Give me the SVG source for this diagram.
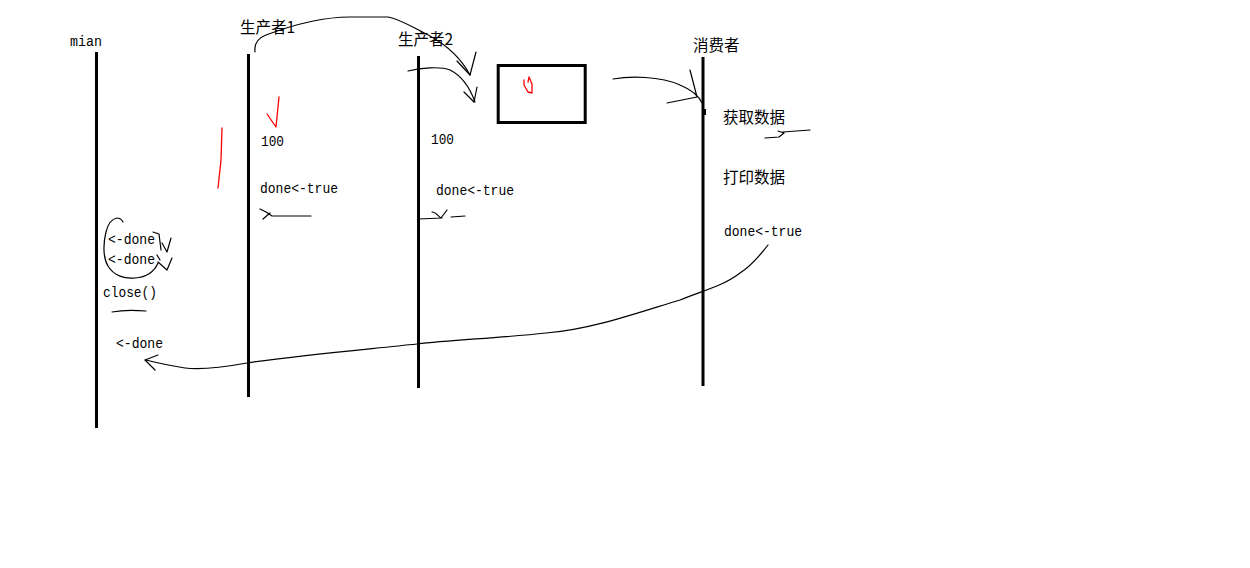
<svg xmlns="http://www.w3.org/2000/svg" width="1250" height="568" viewBox="0 0 1250 568">
<style>
.bg{fill:#ffffff}
.life{stroke:#000;stroke-width:3;fill:none}
.pen{stroke:#000;stroke-width:1.2;fill:none;stroke-linecap:round;stroke-linejoin:round}
.red{stroke:#ff0000;stroke-width:1.3;fill:none;stroke-linecap:round;stroke-linejoin:round}
.t{font-family:"Liberation Mono","DejaVu Sans Mono",monospace;font-size:15.5px;fill:#000}
.cn{font-family:"Noto Sans CJK SC","Noto Sans",sans-serif;font-size:15.5px;fill:#000}
</style>
<rect class="bg" x="0" y="0" width="1250" height="568"/>
<g id="mian">
<line class="life" x1="96.5" y1="52" x2="96.5" y2="428"/>
<text class="t" x="70" y="46" textLength="32" lengthAdjust="spacingAndGlyphs">mian</text>
<text class="t" x="108" y="244" textLength="47" lengthAdjust="spacingAndGlyphs">&lt;-done</text>
<text class="t" x="108" y="264" textLength="47" lengthAdjust="spacingAndGlyphs">&lt;-done</text>
<text class="t" x="103" y="297" textLength="54" lengthAdjust="spacingAndGlyphs">close()</text>
<path class="pen" d="M112,312 C122,310 135,310 146,311"/>
<text class="t" x="116" y="348" textLength="47" lengthAdjust="spacingAndGlyphs">&lt;-done</text>
<path class="pen" d="M117,218 C121,218 122,220 123,222 M117,218 C111,219 108,224 106,232 C103,244 103,258 108,266 C114,276 125,279 135,278 C148,277 155,270 158,263"/>
<path class="pen" d="M153,232 L159,234 L161,250"/>
<path class="pen" d="M162,243 L167,252 L171,238"/>
<path class="pen" d="M157,255 L160,260 M158,262 L167,270 L172,258"/>
</g>
<g id="producer1">
<line class="life" x1="248.5" y1="54" x2="248.5" y2="397"/>
<text class="cn" x="240" y="33">生产者1</text>
<text class="t" x="261" y="146" textLength="23" lengthAdjust="spacingAndGlyphs">100</text>
<text class="t" x="260" y="193" textLength="78" lengthAdjust="spacingAndGlyphs">done&lt;-true</text>
<path class="pen" d="M260,209 L266,212 L272,216 L311,216 M263,219 L270,213"/>
<path class="red" d="M267,114 L276,127 L279,97"/>
<path class="red" d="M222,128 L221,160 L218,188"/>
</g>
<g id="producer2">
<line class="life" x1="418.5" y1="56" x2="418.5" y2="388"/>
<text class="cn" x="398" y="45">生产者2</text>
<text class="t" x="431" y="144" textLength="23" lengthAdjust="spacingAndGlyphs">100</text>
<text class="t" x="436" y="195" textLength="78" lengthAdjust="spacingAndGlyphs">done&lt;-true</text>
<path class="pen" d="M418,219 L442,218 M432,212 C436,212 438,216 441,218 L447,210 M451,217 L465,216"/>
</g>
<g id="channel">
<rect x="498.2" y="65.5" width="87" height="57" fill="none" stroke="#000" stroke-width="3"/>
<path class="red" d="M528,82 L529,77 L532,84 L532,93 L528,92 L524,85 L524,80"/>
</g>
<g id="consumer">
<line class="life" x1="703" y1="57" x2="703" y2="386"/>
<line x1="705" y1="109" x2="705" y2="115" stroke="#000" stroke-width="2"/>
<text class="cn" x="693" y="51">消费者</text>
<text class="cn" x="723" y="123">获取数据</text>
<path class="pen" d="M765,138 L779,137 L784,133 L778,131 M783,132 L810,130"/>
<text class="cn" x="723" y="183">打印数据</text>
<text class="t" x="724" y="236" textLength="78" lengthAdjust="spacingAndGlyphs">done&lt;-true</text>
</g>
<g id="connectors">
<path class="pen" d="M255,52 C254,44 258,38 266,35 C290,26 320,17 350,17 L388,17 C400,19 412,27 430,36 C448,46 462,60 470,75"/>
<path class="pen" d="M457,61 L470,75 L476,52"/>
<path class="pen" d="M408,71 C420,68 440,66 450,70 C462,76 470,88 475,102"/>
<path class="pen" d="M464,92 L474,102 L477,87"/>
<path class="pen" d="M613,79 C630,76 660,76 680,85 C692,90 699,96 702,103"/>
<path class="pen" d="M690,70 L697,97 M667,103 L697,97"/>
<path class="pen" d="M768,245 C758,258 748,268 740,273 C725,285 705,290 680,300 C640,312 590,330 546,333 C500,338 450,340 417,344 C360,350 300,355 247,363 C225,367 200,370 185,368 C170,366 155,362 145,360"/>
<path class="pen" d="M158,355 L145,360 L155,370"/>
</g>
</svg>
